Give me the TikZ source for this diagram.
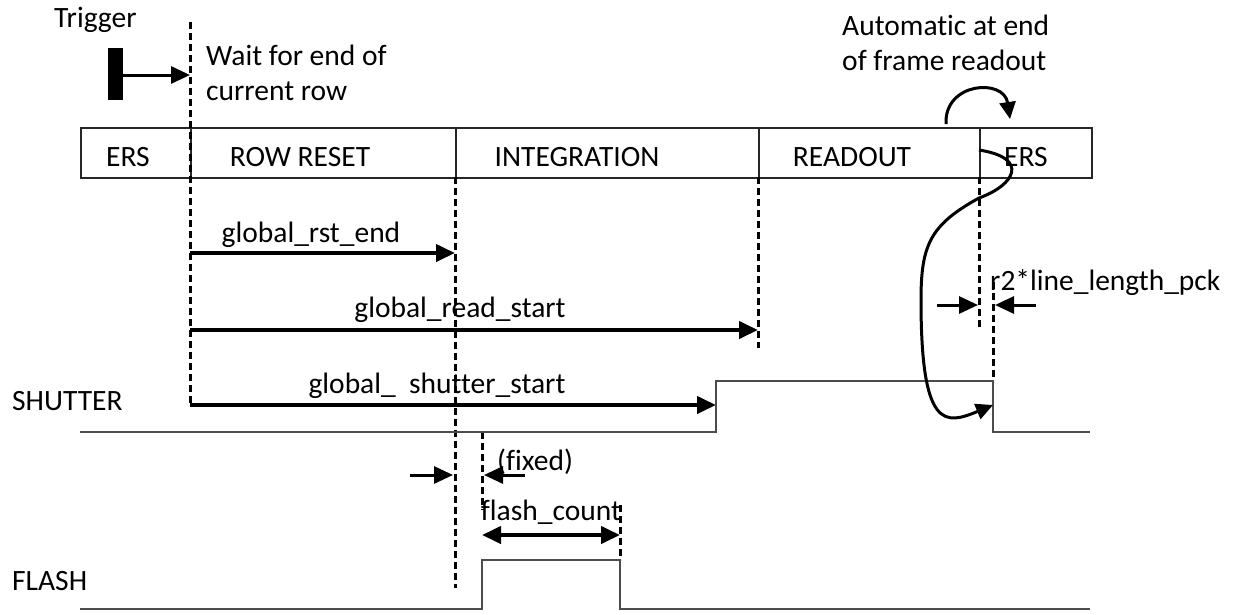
\documentclass[tikz,border=0pt]{standalone}
\usepackage{fontspec}
\setmainfont{Carlito}[Ligatures={NoCommon}]
\usetikzlibrary{arrows.meta}
\tikzset{
  txt/.style={font=\fontsize{29.5}{35}\selectfont, inner sep=0pt, text=black},
  boxseg/.style={draw, line width=2pt, minimum height=50pt, inner sep=0pt, anchor=north west, draw=black!85},
  dline/.style={line width=3pt, dash pattern=on 7pt off 4pt},
  arr/.style={line width=4pt, -{Triangle[length=19pt,width=17pt]}},
  darr/.style={line width=4pt, {Triangle[length=19pt,width=17pt]}-{Triangle[length=19pt,width=17pt]}},
  sig/.style={line width=2pt, draw=black!70},
  curv/.style={line width=3pt, -{Triangle[length=17pt,width=16pt]}}
}
\begin{document}
\begin{tikzpicture}[x=1pt,y=-1pt]
\useasboundingbox (0,0) rectangle (1242,614);
% box segments
\node[boxseg, minimum width=110pt] (ers1) at (80,127) {};
\node[boxseg, minimum width=265pt] (rowreset) at (190,127) {};
\node[boxseg, minimum width=303pt] (integ) at (455,127) {};
\node[boxseg, minimum width=221pt] (readout) at (758,127) {};
\node[boxseg, minimum width=112pt] (ers2) at (979,127) {};
% box labels
\node[txt, anchor=base] (lers1) at (128,166) {ERS};
\node[txt, anchor=base] (lrow) at (300,166) {ROW RESET};
\node[txt, anchor=base] (lint) at (577,166) {INTEGRATION};
\node[txt, anchor=base] (lread) at (852,166) {READOUT};
\node[txt, anchor=base] (lers2) at (1026,166) {ERS};
% texts
\node[txt, anchor=base west] (trigtxt) at (54,27) {Trigger};
\node[txt, anchor=base west] (wait1) at (206,65) {Wait for end of};
\node[txt, anchor=base west] (wait2) at (206,100) {current row};
\node[txt, anchor=base west] (auto1) at (842,35) {Automatic at end};
\node[txt, anchor=base west] (auto2) at (842,70) {of frame readout};
\node[txt, anchor=base west] (shut) at (12,410) {SHUTTER};
\node[txt, anchor=base west] (flash) at (12,590) {FLASH};
% trigger bar
\node[fill=black, minimum width=15pt, minimum height=52pt, inner sep=0pt] (trig) at (115,74) {};
% coordinates
\coordinate (d1t) at (190,22);
\coordinate (d1b) at (190,405);
\coordinate (d1trig) at (190,75);
\coordinate (d1a) at (190,253);
\coordinate (d1c) at (190,330);
\coordinate (d2t) at (455,177);
\coordinate (d2b) at (455,588);
\coordinate (d2a) at (455,253);
\coordinate (d3t) at (758,177);
\coordinate (d3b) at (758,348);
\coordinate (d3a) at (758,330);
\coordinate (d4t) at (979,177);
\coordinate (d4b) at (979,330);
\coordinate (d5t) at (993,282);
\coordinate (d5b) at (993,381);
\coordinate (d6t) at (482,432);
\coordinate (d6b) at (482,510);
\coordinate (d7t) at (620,505);
\coordinate (d7b) at (620,560);
% dashed lines
\draw[dline] (d1t) -- (d1b);
\draw[dline] (d2t) -- (d2b);
\draw[dline] (d3t) -- (d3b);
\draw[dline] (d4t) -- (d4b);
\draw[dline] (d5t) -- (d5b);
\draw[dline] (d6t) -- (d6b);
\draw[dline] (d7t) -- (d7b);
% trigger arrow
\draw[arr, line width=3pt] (trig.east |- d1trig) -- (d1trig);
% main arrows
\draw[arr] (d1a) -- (d2a);
\node[txt, anchor=base] (lrst) at (311,242) {global\_rst\_end};
\draw[arr] (d1c) -- (d3a);
\node[txt, anchor=base] (lrs) at (460,317) {global\_read\_start};
\coordinate (shrise) at (716,405);
\draw[arr] (d1b) -- (shrise);
\node[txt, anchor=base] (lss) at (437,393) {global\_ \ shutter\_start};
% shutter signal
\coordinate (s0) at (80,432);
\coordinate (s1) at (716,432);
\coordinate (s2) at (716,381);
\coordinate (s3) at (993,381);
\coordinate (s4) at (993,432);
\coordinate (s5) at (1090,432);
\draw[sig] (s0) -- (s1) -- (s2) -- (s3) -- (s4) -- (s5);
% flash signal
\coordinate (f0) at (80,609);
\coordinate (f1) at (482,609);
\coordinate (f2) at (482,560);
\coordinate (f3) at (620,560);
\coordinate (f4) at (620,609);
\coordinate (f5) at (1090,609);
\draw[sig] (f0) -- (f1) -- (f2) -- (f3) -- (f4) -- (f5);
% fixed arrows
\coordinate (fxa) at (410,475);
\coordinate (fxb) at (453,475);
\coordinate (fxc) at (525,475);
\coordinate (fxd) at (484,475);
\draw[arr, line width=3pt] (fxa) -- (fxb);
\draw[arr, line width=3pt] (fxc) -- (fxd);
\node[txt, anchor=base west] (lfix) at (497,470) {(fixed)};
% flash count
\coordinate (fca) at (482,535);
\coordinate (fcb) at (620,535);
\draw[darr] (fca) -- (fcb);
\node[txt, anchor=base] (lfc) at (551,520) {flash\_count};
% line length arrows
\coordinate (lla) at (937,305);
\coordinate (llb) at (978,305);
\coordinate (llc) at (1036,305);
\coordinate (lld) at (995,305);
\draw[arr, line width=3pt] (lla) -- (llb);
\draw[arr, line width=3pt] (llc) -- (lld);
\node[txt, anchor=base west] (lll) at (990,290) {r2*line\_length\_pck};
% curved arrows
\coordinate (c0) at (946,124);
\coordinate (c1) at (1010,119);
\draw[curv] (c0) .. controls (944,82) and (1004,78) .. (c1);
\coordinate (g0) at (979,150);
\coordinate (g1) at (979,198);
\coordinate (g2) at (921,300);
\draw[curv] (g0) .. controls (1030,158) and (1015,185) .. (g1)
  .. controls (930,225) and (921,245) .. (g2)
  .. controls (921,430) and (945,425) .. (d5b |- shrise);
\end{tikzpicture}
\end{document}
